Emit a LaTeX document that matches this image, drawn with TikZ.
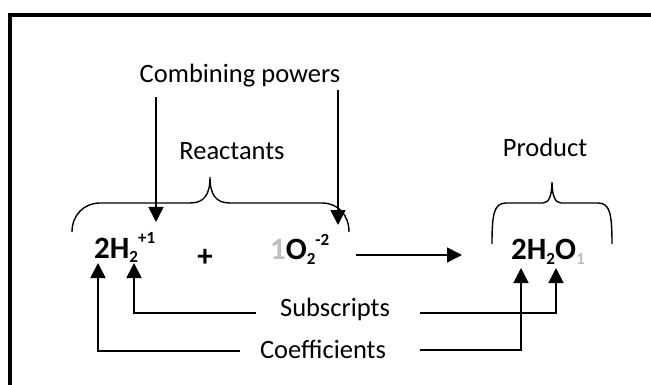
\documentclass[tikz,border=0pt]{standalone}
\usepackage{fontspec}
\setmainfont{Carlito}
\usetikzlibrary{arrows.meta}
\definecolor{eqgrey}{RGB}{191,191,191}
\newcommand{\chsub}[1]{\raisebox{-5pt}{\fontsize{17}{17}\selectfont #1}}
\newcommand{\chsup}[1]{\raisebox{14pt}{\fontsize{17}{17}\selectfont #1}}
\begin{document}
\begin{tikzpicture}[x=1pt,y=-1pt,
  lbl/.style={inner sep=0pt, anchor=base, font=\fontsize{26.5}{30}\selectfont},
  eq/.style={inner sep=0pt, anchor=base west, font=\fontsize{31}{34}\selectfont\bfseries},
  conn/.style={line width=1.6pt, line join=miter, -{Triangle[length=15pt,width=15pt]}},
  bracestyle/.style={line width=1.4pt, line cap=butt}]
\useasboundingbox (0,0) rectangle (651,385);
\clip (0,0) rectangle (651,385);
\fill[white] (0,0) rectangle (651,385);
% frame
\draw[line width=4pt, line join=miter] (10,400) -- (10,15) -- (670,15);

% labels
\node[lbl] (cp) at (240,83) {Combining powers};
\node[lbl] (react) at (232,160) {Reactants};
\node[lbl] (prod) at (545,157) {Product};
\node[lbl] (subs) at (335,316) {Subscripts};
\node[lbl] (coef) at (323,358) {Coefficients};

% equation
\node[eq] (h2) at (94,258) {2H\chsub{2}\chsup{+1}};
\node[eq, anchor=base] (plus) at (205,266) {+};
\node[eq] (o2) at (270,259) {{\color{eqgrey}1}O\chsub{2}\chsup{-2}};
\node[eq] (h2o) at (511,259) {2H\chsub{2}O{\color{eqgrey}\chsub{1}}};

% braces
\draw[bracestyle] (72,232) .. controls (72,215) and (84,203) .. (100,203) -- (190,203)
  .. controls (204,203) and (210,195) .. (210,177)
  .. controls (210,195) and (216,203) .. (230,203) -- (322,203)
  .. controls (338,203) and (349,215) .. (349,232);
\draw[bracestyle] (492,244) .. controls (492,214) and (494,203) .. (506,203) -- (543,203)
  .. controls (549,203) and (552,195) .. (552,182)
  .. controls (552,195) and (555,203) .. (561,203) -- (598,203)
  .. controls (610,203) and (612,214) .. (612,244);

% combining powers arrows
\coordinate (cpL) at (156,97);
\coordinate (cpR) at (338,90);
\coordinate (tipH) at (156,222);
\coordinate (tipO) at (338,225);
\draw[conn] (cpL) -- (tipH);
\draw[conn] (cpR) -- (tipO);

% reaction arrow
\coordinate (rxA) at (356,255);
\coordinate (rxB) at (462,255);
\draw[conn] (rxA) -- (rxB);

% subscripts connectors
\coordinate (sL) at (256,313);
\coordinate (sLc) at (134,313);
\coordinate (sLt) at (134,263);
\coordinate (sR) at (420,313);
\coordinate (sRc) at (556,313);
\coordinate (sRt) at (556,268);
\draw[conn] (sL) -- (sLc) -- (sLt);
\draw[conn] (sR) -- (sRc) -- (sRt);

% coefficients connectors
\coordinate (cL) at (240,351);
\coordinate (cLc) at (98,351);
\coordinate (cLt) at (98,263);
\coordinate (cR) at (420,350);
\coordinate (cRc) at (521,350);
\coordinate (cRt) at (521,268);
\draw[conn] (cL) -- (cLc) -- (cLt);
\draw[conn] (cR) -- (cRc) -- (cRt);
\end{tikzpicture}
\end{document}
